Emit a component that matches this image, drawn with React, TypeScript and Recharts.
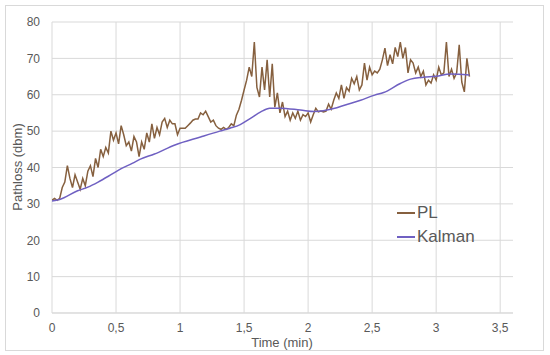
import React from 'react';
import { LineChart, Line, XAxis, YAxis, CartesianGrid } from 'recharts';

// PL samples, one every 0.02 min starting at t = 0
const plStart = 0;
const plStep = 0.02;
const plValues = [
  31, 31.5, 31, 31.5, 34.5, 36, 40.5, 37, 34.5, 38,
  36, 34, 37, 35, 39, 40.5, 37.5, 42.5, 40, 45,
  43, 45.5, 44, 50, 47.5, 49.5, 46.5, 51.5, 49, 46,
  47, 44.5, 48.5, 47, 43, 47, 45, 49.5, 47, 52,
  48, 51, 49, 52.5, 53.5, 51, 53, 52, 52, 49,
  50.8, 50.8, 50.8, 51.5, 52.2, 53, 53.3, 53.3, 55, 54.5,
  55.5, 54, 52.5, 53, 51.5, 50.8, 50.5, 51, 50.5, 51,
  52, 51.5, 54.4, 56, 58.5, 61.3, 64, 67.6, 65, 74.5,
  62, 59.4, 67.6, 61.3, 69.6, 59.4, 68.5, 56.6, 60.5, 55,
  58, 54, 55.5, 53, 55, 53.5, 55.5, 53, 54.5, 54,
  55, 52.5, 54.5, 56.3, 55.3, 55.5, 55.3, 55.5, 57.4, 56,
  58.5, 60.5, 59, 62.7, 59, 62, 61, 64.5, 63, 65,
  61.3, 62.7, 68.7, 64, 67.6, 65.5, 66.5, 66, 67, 69.6,
  72.8, 68, 71, 68.5, 73, 70.5, 74.5, 70, 73, 66,
  69.6, 68.7, 66, 67.6, 65, 66.5, 62.7, 64, 63.2, 65.5,
  64, 67.6, 65.5, 66, 74.5, 65, 67, 64.5, 66, 73.7,
  63.5, 60.8, 70, 65,
];

// Kalman estimate, read at these times (min)
const kalmanTimes = [
  0, 0.06, 0.2, 0.28, 0.36, 0.44, 0.52, 0.63, 0.69, 0.8, 0.96, 1.16, 1.31, 1.39, 1.47,
  1.55, 1.63, 1.7, 1.78, 1.94, 2.05, 2.2, 2.29, 2.41, 2.52, 2.59, 2.72, 2.8, 2.9, 3.0, 3.11, 3.26,
];
const kalmanValues = [
  30.8, 31.2, 33.6, 34.6, 36, 37.6, 39.3, 41.2, 42.3, 43.7, 46.2, 48.4, 50, 50.8, 51.8,
  53.5, 55.3, 56.3, 56.3, 55.8, 55.4, 56.2, 57.2, 58.5, 59.9, 60.6, 63.1, 64.3, 64.8, 65.1, 65.7, 65.4,
];

const xTicks = [0, 0.5, 1, 1.5, 2, 2.5, 3, 3.5];
const yTicks = [0, 10, 20, 30, 40, 50, 60, 70, 80];

const plData = plValues.map((v, i) => ({ t: +(plStart + i * plStep).toFixed(2), v }));
const kalmanData = kalmanTimes.map((t, i) => ({ t, v: kalmanValues[i] }));

const PL_COLOR = '#86603f';
const KALMAN_COLOR = '#6f60c2';
const TEXT = '#595959';
const GRID = '#d9d9d9';
const FONT = '"Liberation Sans", Arial, sans-serif';

const legendItems = [
  { name: 'PL', color: PL_COLOR },
  { name: 'Kalman', color: KALMAN_COLOR },
];

export default function App() {
  return (
    <div style={{ position: 'absolute', left: 0, top: 0, width: 550, height: 355, background: '#fff' }}>
      <div
        style={{
          position: 'absolute', left: 5, top: 5, width: 537, height: 344,
          border: `1px solid ${GRID}`,
        }}
      />
      <div style={{ position: 'absolute', left: 0, top: 0 }}>
        <LineChart width={550} height={355} margin={{ top: 22, right: 37, bottom: 0, left: 0 }}>
          <CartesianGrid stroke={GRID} verticalValues={xTicks} horizontalValues={yTicks} />
          <XAxis
            type="number"
            dataKey="t"
            domain={[0, 3.6]}
            ticks={xTicks}
            allowDataOverflow
            height={42}
            tickLine={false}
            tickMargin={4}
            stroke={GRID}
            tick={{ fill: TEXT, fontSize: 12, fontFamily: FONT }}
            tickFormatter={(v: number) => String(v).replace('.', ',')}
          />
          <YAxis
            type="number"
            domain={[0, 80]}
            ticks={yTicks}
            width={52}
            axisLine={false}
            tickLine={false}
            tickMargin={6}
            tick={{ fill: TEXT, fontSize: 12, fontFamily: FONT }}
          />
          <Line
            data={plData}
            dataKey="v"
            name="PL"
            type="linear"
            stroke={PL_COLOR}
            strokeWidth={1.5}
            dot={false}
            isAnimationActive={false}
          />
          <Line
            data={kalmanData}
            dataKey="v"
            name="Kalman"
            type="monotone"
            stroke={KALMAN_COLOR}
            strokeWidth={1.5}
            dot={false}
            isAnimationActive={false}
          />
        </LineChart>
      </div>
      <div
        style={{
          position: 'absolute', left: 397, top: 201,
          fontFamily: FONT, fontSize: 17, color: TEXT, lineHeight: '24px',
        }}
      >
        {legendItems.map((item) => (
          <div key={item.name} style={{ display: 'flex', alignItems: 'center' }}>
            <span style={{ display: 'inline-block', width: 18, height: 2, background: item.color, marginRight: 2 }} />
            <span>{item.name}</span>
          </div>
        ))}
      </div>
      <div
        style={{
          position: 'absolute', left: 282, top: 342, transform: 'translate(-50%, -50%)',
          fontFamily: FONT, fontSize: 13, color: TEXT, whiteSpace: 'nowrap',
        }}
      >
        Time (min)
      </div>
      <div
        style={{
          position: 'absolute', left: 17, top: 167, transform: 'translate(-50%, -50%) rotate(-90deg)',
          fontFamily: FONT, fontSize: 13, color: TEXT, whiteSpace: 'nowrap',
        }}
      >
        Pathloss (dbm)
      </div>
    </div>
  );
}
